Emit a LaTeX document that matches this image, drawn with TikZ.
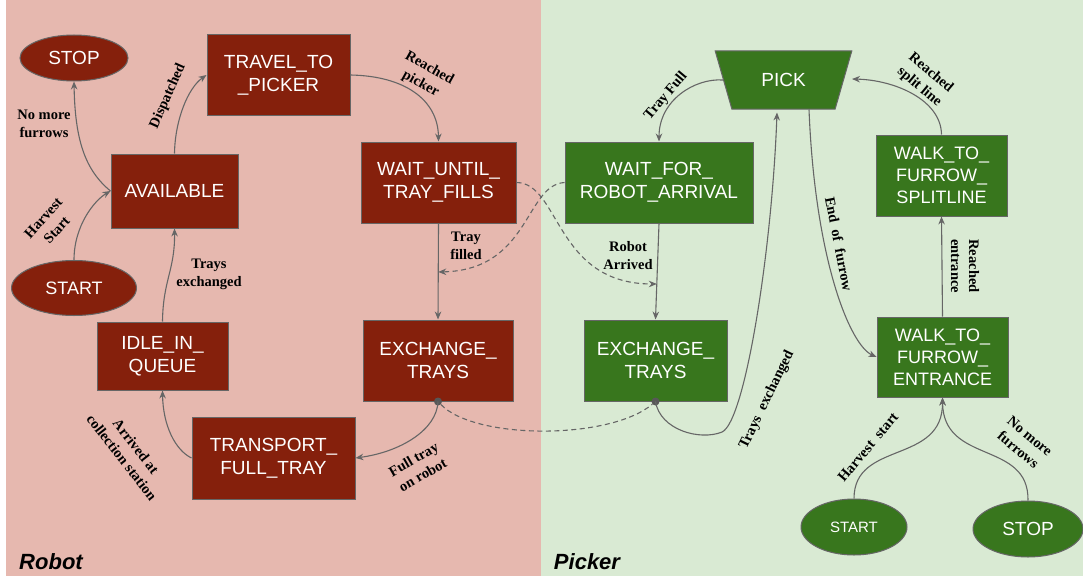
\documentclass[tikz,border=0pt]{standalone}
\usepackage{fontspec}
\setmainfont{Liberation Serif}
\setsansfont{Liberation Sans}
\usetikzlibrary{arrows.meta,calc,shapes.geometric}

\definecolor{robotbg}{HTML}{E6B8AF}
\definecolor{pickerbg}{HTML}{D9EAD3}
\definecolor{robotst}{HTML}{85200C}
\definecolor{pickerst}{HTML}{38761D}
\definecolor{edgegray}{HTML}{666666}

\tikzset{
  state/.style={draw=edgegray, line width=1pt, text=white,
    font=\sffamily\fontsize{19}{23}\selectfont, align=center, inner sep=0pt},
  rstate/.style={state, fill=robotst, rectangle},
  gstate/.style={state, fill=pickerst, rectangle},
  rterm/.style={state, fill=robotst, ellipse},
  gterm/.style={state, fill=pickerst, ellipse},
  small/.style={font=\sffamily\fontsize{18}{22}\selectfont},
  trans/.style={draw=edgegray, line width=1.1pt, -{Stealth[length=8pt,width=6.5pt]}},
  sync/.style={trans, dash pattern=on 5pt off 3.5pt},
  elabel/.style={font=\bfseries\fontsize{14.5}{18}\selectfont, align=center,
    inner sep=0pt, text=black},
  lane/.style={font=\sffamily\bfseries\itshape\fontsize{22}{26}\selectfont},
  syncdot/.style={circle, fill=edgegray!85!black, inner sep=0pt, minimum size=8pt}
}

\begin{document}
\begin{tikzpicture}[x=1pt, y=1pt]
  \useasboundingbox (0,0) rectangle (1083,-578);

  % swim lanes
  \fill[robotbg]  (6,0) rectangle (541,-576);
  \fill[pickerbg] (541,0) rectangle (1083,-576);
  \node[lane] (laneR) at (51,-562) {Robot};
  \node[lane] (laneP) at (587,-562) {Picker};

  % robot states
  \node[rterm, minimum width=108pt, minimum height=46pt] (stopR) at (74,-58) {STOP};
  \node[rterm, minimum width=125pt, minimum height=55pt, font=\sffamily\fontsize{18}{22}\selectfont] (startR) at (74,-288) {START};
  \node[rstate, minimum width=143pt, minimum height=80pt] (travel) at (278.5,-75) {TRAVEL\_TO\\\_PICKER};
  \node[rstate, minimum width=127pt, minimum height=74pt] (avail) at (174.5,-191) {AVAILABLE};
  \node[rstate, minimum width=155pt, minimum height=81pt] (waitU) at (438.5,-182.5) {WAIT\_UNTIL\_\\TRAY\_FILLS};
  \node[rstate, minimum width=150pt, minimum height=81pt] (exchR) at (438,-360.5) {EXCHANGE\_\\TRAYS};
  \node[rstate, minimum width=131pt, minimum height=68pt] (idle) at (162.5,-356) {IDLE\_IN\_\\QUEUE};
  \node[rstate, minimum width=163pt, minimum height=82pt] (transport) at (273.5,-458) {TRANSPORT\_\\FULL\_TRAY};

  % picker states
  \node[trapezium, trapezium angle=62, shape border rotate=180, trapezium stretches=true,
        minimum width=137pt, minimum height=58pt, state, fill=pickerst] (pick) at (783.5,-80) {PICK};
  \node[gstate, minimum width=188pt, minimum height=81pt] (waitF) at (659,-182.5) {WAIT\_FOR\_\\ROBOT\_ARRIVAL};
  \node[gstate, minimum width=143pt, minimum height=81pt] (exchG) at (655.5,-360.5) {EXCHANGE\_\\TRAYS};
  \node[gstate, small, minimum width=131pt, minimum height=81pt] (split) at (941.5,-175.5) {WALK\_TO\_\\FURROW\_\\SPLITLINE};
  \node[gstate, small, minimum width=131pt, minimum height=80pt] (entr) at (942.5,-357) {WALK\_TO\_\\FURROW\_\\ENTRANCE};
  \node[gterm, minimum width=106pt, minimum height=56pt, font=\sffamily\fontsize{15}{18}\selectfont] (startG) at (854,-527) {START};
  \node[gterm, minimum width=110pt, minimum height=56pt] (stopG) at (1028,-529) {STOP};

  % synchronisation points
  \node[syncdot] (dR) at (exchR.south) {};
  \node[syncdot] (dG) at (exchG.south) {};
  \coordinate (sigU) at ($(waitU.south)!0.505!(exchR.north)$);
  \coordinate (sigF) at ($(waitF.south)!0.63!(exchG.north)$);

  % robot transitions
  \draw[trans] (startR.north) .. controls (74,-225) and (95,-200) .. (avail.west);
  \draw[trans] (avail.west) .. controls (85,-170) and (75,-140) .. (stopR.south);
  \draw[trans] (avail.north) .. controls (175,-120) and (188,-88) .. (travel.west);
  \draw[trans] (travel.east) .. controls (405,-76) and (438,-100) .. (waitU.north);
  \draw[trans] (waitU.south) -- (exchR.north);
  \draw[trans] (dR.center) .. controls (437,-430) and (400,-452) .. (transport.east);
  \draw[trans] (transport.west) .. controls (175,-450) and (163,-425) .. (idle.south);
  \draw[trans] (idle.north) .. controls (163,-280) and (175,-270) .. (avail.south);

  % picker transitions
  \draw[trans] (pick.west) .. controls (695,-78) and (659,-100) .. (waitF.north);
  \draw[trans] (waitF.south) -- (exchG.north);
  \draw[trans] (dG.center) .. controls (660,-430) and (700,-441) .. (722,-432)
               .. controls (745,-422) and (772,-250) .. ($(pick.south)+(-6.5,-3)$);
  \draw[trans] ($(pick.south)+(25.5,0)$) .. controls (815,-260) and (850,-345) .. (entr.west);
  \draw[trans] (entr.north) -- (split.south);
  \draw[trans] (split.north) .. controls (941,-100) and (895,-80) .. ($(pick.east)+(8,1)$);
  \draw[trans] (startG.north) .. controls (854,-440) and (943,-465) .. (entr.south);
  \draw[trans] (stopG.north) .. controls (1029,-440) and (943,-465) .. (entr.south);

  % cross-lane signals
  \draw[sync] (waitU.east) .. controls (560,-183) and (555,-284) .. (sigF);
  \draw[sync] (waitF.west) .. controls (525,-185) and (530,-270) .. (sigU);
  \draw[draw=edgegray, line width=1.1pt, dash pattern=on 5pt off 3.5pt]
    (dR) .. controls (475,-440) and (610,-440) .. (dG);

  % transition labels
  \node[elabel, rotate=48] (lHarvR) at (50,-224) {Harvest\\Start};
  \node[elabel] (lNoMoreR) at (44,-124) {No more\\furrows};
  \node[elabel, rotate=66] (lDisp) at (168,-96) {Dispatched};
  \node[elabel, rotate=-29] (lReachP) at (425,-76) {Reached\\picker};
  \node[elabel] (lFilled) at (466,-246) {Tray\\filled};
  \node[elabel, rotate=30] (lFull) at (418,-467) {Full tray\\on robot};
  \node[elabel, rotate=-52] (lArr) at (129,-452) {Arrived at\\collection station};
  \node[elabel] (lExchR) at (209,-274) {Trays\\exchanged};
  \node[elabel, rotate=50] (lTrayFull) at (666,-96) {Tray Full};
  \node[elabel] (lRobArr) at (628,-256) {Robot\\Arrived};
  \node[elabel, rotate=64] (lExchG) at (767,-400) {Trays\ \ exchanged};
  \node[elabel, rotate=-79] (lEnd) at (839,-244) {End\ \ of\ \ furrow};
  \node[elabel, rotate=-90] (lEntr) at (965,-266) {Reached\\entrance};
  \node[elabel, rotate=-40] (lSplit) at (925,-80) {Reached\\split line};
  \node[elabel, rotate=50] (lHarvG) at (868,-447) {Harvest\ \ start};
  \node[elabel, rotate=-40] (lNoMoreG) at (1024,-443) {No more\\furrows};
\end{tikzpicture}
\end{document}
